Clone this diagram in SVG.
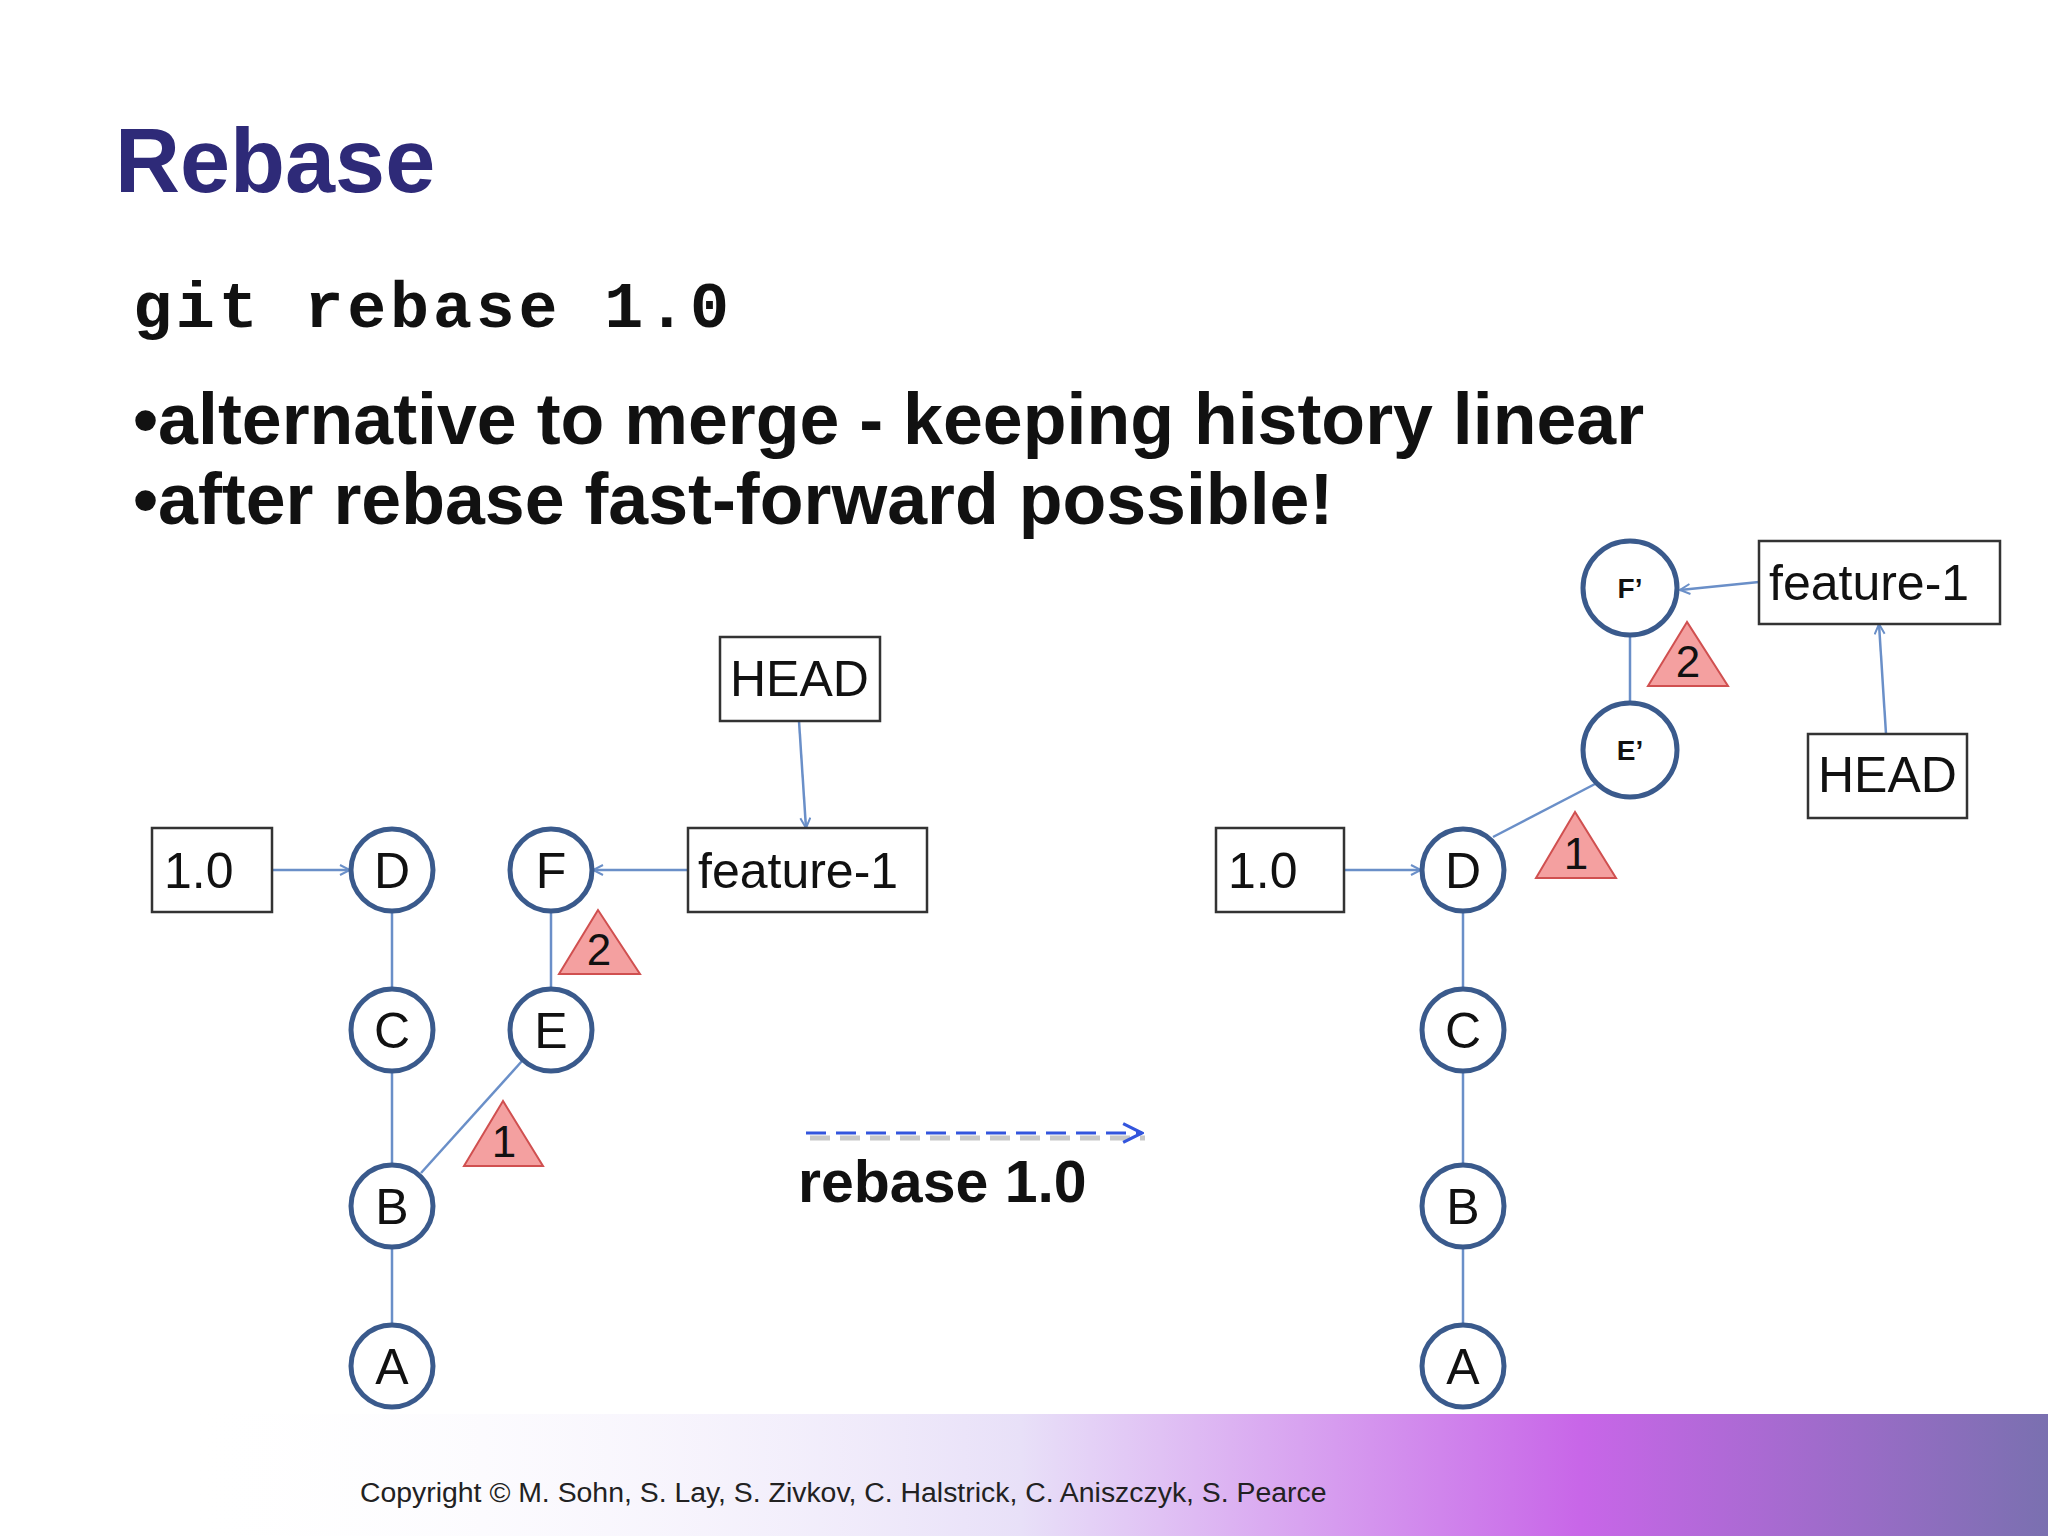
<svg xmlns="http://www.w3.org/2000/svg" width="2048" height="1536" viewBox="0 0 2048 1536">
<defs>
<style>
.n circle{fill:#fff;stroke:#3a5a8c;stroke-width:5}
.n text{font-family:"Liberation Sans",Arial,sans-serif;font-size:50px;text-anchor:middle;fill:#111}
.b rect{fill:#fff;stroke:#333;stroke-width:2.5}
.b text{font-family:"Liberation Sans",Arial,sans-serif;font-size:50px;fill:#111}
.t polygon{fill:#f4a0a0;stroke:#d05050;stroke-width:2}
.t text{font-family:"Liberation Sans",Arial,sans-serif;font-size:44px;text-anchor:middle;fill:#111}
.c line{stroke:#6a8fc8;stroke-width:2.5}
.a{marker-end:url(#ar)}
</style>
<marker id="ar" viewBox="0 0 12 12" refX="11" refY="6" markerWidth="12" markerHeight="12" markerUnits="userSpaceOnUse" orient="auto"><path d="M1,1 L11,6 L1,11" fill="none" stroke="#6a8fc8" stroke-width="2"/></marker>
<marker id="ar2" viewBox="0 0 14 14" refX="13" refY="7" markerWidth="22" markerHeight="22" markerUnits="userSpaceOnUse" orient="auto"><path d="M1,1 L13,7 L1,13" fill="none" stroke="#3355dd" stroke-width="2"/></marker>
<linearGradient id="bg" x1="0" y1="0" x2="1" y2="0">
<stop offset="0" stop-color="#fff" stop-opacity="0"/>
<stop offset="0.45" stop-color="#e8e0f8"/>
<stop offset="0.75" stop-color="#c866e8"/>
<stop offset="1" stop-color="#7a70b0"/>
</linearGradient>
</defs>
<rect width="2048" height="1536" fill="#fff"/>
<rect x="180" y="1414" width="1868" height="122" fill="url(#bg)"/>
<text x="115" y="192" font-family="Liberation Sans,Arial,sans-serif" font-weight="bold" font-size="90" fill="#2e2a78">Rebase</text>
<text x="133" y="327" font-family="Liberation Mono,Courier New,monospace" font-weight="bold" font-size="65" fill="#111" textLength="596">git rebase 1.0</text>
<text x="133" y="444" font-family="Liberation Sans,Arial,sans-serif" font-weight="bold" font-size="71.7" fill="#111">•alternative to merge - keeping history linear</text>
<text x="133" y="524" font-family="Liberation Sans,Arial,sans-serif" font-weight="bold" font-size="71.7" fill="#111">•after rebase fast-forward possible!</text>
<g id="connectors" class="c">
<line x1="272" y1="870" x2="350" y2="870" class="a"/>
<line x1="799" y1="721" x2="806" y2="828" class="a"/>
<line x1="688" y1="870" x2="593" y2="870" class="a"/>
<line x1="392" y1="912" x2="392" y2="988"/>
<line x1="392" y1="1072" x2="392" y2="1164"/>
<line x1="392" y1="1248" x2="392" y2="1324"/>
<line x1="421" y1="1173" x2="522" y2="1061"/>
<line x1="551" y1="912" x2="551" y2="988"/>
<line x1="1344" y1="870" x2="1421" y2="870" class="a"/>
<line x1="1463" y1="912" x2="1463" y2="988"/>
<line x1="1463" y1="1072" x2="1463" y2="1164"/>
<line x1="1463" y1="1248" x2="1463" y2="1324"/>
<line x1="1493" y1="837" x2="1595" y2="784"/>
<line x1="1630" y1="636" x2="1630" y2="702"/>
<line x1="1759" y1="582" x2="1680" y2="590" class="a"/>
<line x1="1886" y1="734" x2="1879" y2="624" class="a"/>
<line x1="810" y1="1138" x2="1145" y2="1138" stroke-dasharray="20,10" style="stroke:#c8c8c8;stroke-width:5"/>
<line x1="806" y1="1133" x2="1142" y2="1133" stroke-dasharray="20,10" style="stroke:#3355dd;stroke-width:3" marker-end="url(#ar2)"/>
</g>
<g id="n-D" class="n"><circle cx="392" cy="870" r="41"/><text x="392" y="888">D</text></g>
<g id="n-C" class="n"><circle cx="392" cy="1030" r="41"/><text x="392" y="1048">C</text></g>
<g id="n-B" class="n"><circle cx="392" cy="1206" r="41"/><text x="392" y="1224">B</text></g>
<g id="n-A" class="n"><circle cx="392" cy="1366" r="41"/><text x="392" y="1384">A</text></g>
<g id="n-F" class="n"><circle cx="551" cy="870" r="41"/><text x="551" y="888">F</text></g>
<g id="n-E" class="n"><circle cx="551" cy="1030" r="41"/><text x="551" y="1048">E</text></g>
<g id="n-D2" class="n"><circle cx="1463" cy="870" r="41"/><text x="1463" y="888">D</text></g>
<g id="n-C2" class="n"><circle cx="1463" cy="1030" r="41"/><text x="1463" y="1048">C</text></g>
<g id="n-B2" class="n"><circle cx="1463" cy="1206" r="41"/><text x="1463" y="1224">B</text></g>
<g id="n-A2" class="n"><circle cx="1463" cy="1366" r="41"/><text x="1463" y="1384">A</text></g>
<g id="n-E3" class="n"><circle cx="1630" cy="750" r="47"/><text x="1630" y="760" style="font-size:28px;font-weight:bold">E’</text></g>
<g id="n-F3" class="n"><circle cx="1630" cy="588" r="47"/><text x="1630" y="598" style="font-size:28px;font-weight:bold">F’</text></g>
<g id="b-10" class="b"><rect x="152" y="828" width="120" height="84"/><text x="164" y="888">1.0</text></g>
<g id="b-head" class="b"><rect x="720" y="637" width="160" height="84"/><text x="730" y="696">HEAD</text></g>
<g id="b-feat" class="b"><rect x="688" y="828" width="239" height="84"/><text x="698" y="888">feature-1</text></g>
<g id="b-10r" class="b"><rect x="1216" y="828" width="128" height="84"/><text x="1228" y="888">1.0</text></g>
<g id="b-featr" class="b"><rect x="1759" y="541" width="241" height="83"/><text x="1769" y="600">feature-1</text></g>
<g id="b-headr" class="b"><rect x="1808" y="734" width="159" height="84"/><text x="1818" y="792">HEAD</text></g>
<g id="t-2l" class="t"><polygon points="598,910 559,974 640,974"/><text x="599" y="965">2</text></g>
<g id="t-1l" class="t"><polygon points="503,1101 464,1166 543,1166"/><text x="504" y="1157">1</text></g>
<g id="t-1r" class="t"><polygon points="1575,812 1536,878 1616,878"/><text x="1576" y="869">1</text></g>
<g id="t-2r" class="t"><polygon points="1687,622 1648,686 1728,686"/><text x="1688" y="677">2</text></g>
<text x="798" y="1202" font-family="Liberation Sans,Arial,sans-serif" font-weight="bold" font-size="59" fill="#111">rebase 1.0</text>
<text x="360" y="1502" font-family="Liberation Sans,Arial,sans-serif" font-size="28.4" fill="#222">Copyright © M. Sohn, S. Lay, S. Zivkov, C. Halstrick, C. Aniszczyk, S. Pearce</text>
</svg>
